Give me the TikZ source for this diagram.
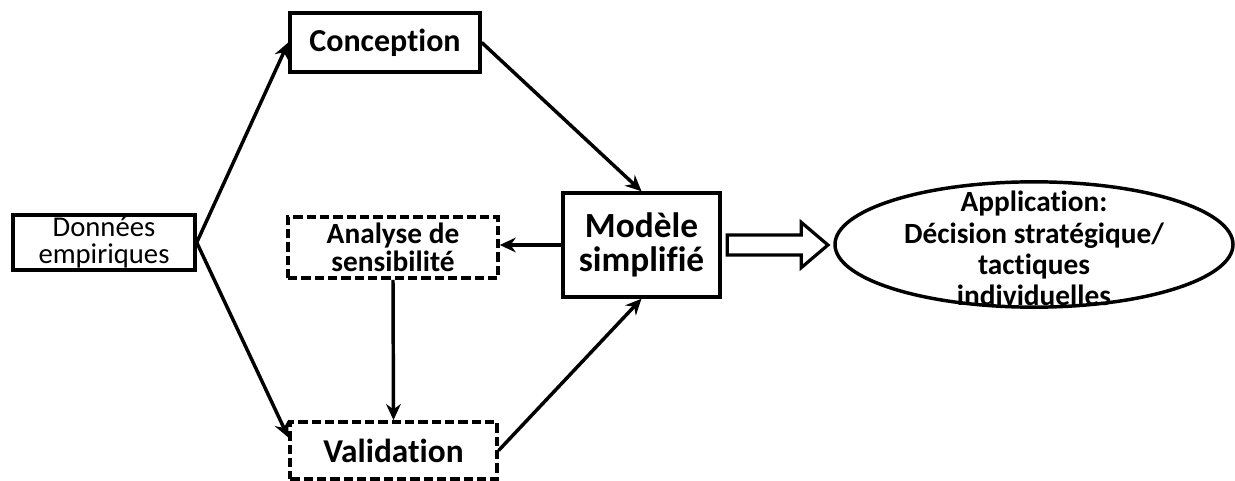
\documentclass[tikz,border=0pt]{standalone}
\usepackage{fontspec}
\setmainfont{Carlito}[Ligatures=NoCommon]
\usetikzlibrary{arrows.meta, shapes.geometric, calc}
\tikzset{every picture/.style={line width=0.75pt}}

\begin{document}
\begin{tikzpicture}[x=0.75pt,y=0.75pt,yscale=-1,xscale=1,
  box/.style={draw, line width=2.6pt, inner sep=0pt, align=center},
  dbox/.style={box, dash pattern=on 7pt off 3pt},
  link/.style={line width=2.6pt, -{Stealth[length=12pt,width=11pt]}}]
\useasboundingbox (0,0) rectangle (1235,481);

% Text Node
\draw (104,242.5) node [box, minimum width=136.5pt, minimum height=41pt, font=\fontsize{21.5}{20}\selectfont] (don) {Données\\empiriques};
% Text Node
\draw (385,42.5) node [box, minimum width=142.5pt, minimum height=44pt, font=\fontsize{24}{24}\selectfont\bfseries] (con) {Conception};
% Text Node
\draw (393,247.5) node [dbox, minimum width=157.5pt, minimum height=46pt, font=\fontsize{22}{21}\selectfont\bfseries] (ana) {Analyse de\\sensibilité};
% Text Node
\draw (641.5,245) node [box, minimum width=118pt, minimum height=78pt, font=\fontsize{26.5}{25}\selectfont\bfseries] (mod) {Modèle\\simplifié};
% Text Node
\draw (393.5,450.5) node [dbox, minimum width=155pt, minimum height=43pt, font=\fontsize{25}{25}\selectfont\bfseries] (val) {Validation};
% Ellipse
\draw (1034,244.5) node [ellipse, draw, line width=2.6pt, inner sep=0pt, minimum width=298.5pt, minimum height=94pt,
  label={[align=center, yshift=-3pt, font=\fontsize{22}{23.5}\selectfont\bfseries]center:Application:\\Décision stratégique/\\tactiques\\individuelles}] (app) {};

%Straight Lines
\draw [link] (don.east) -- (con.west) ;
\draw [link] (don.east) -- (val.173) ;
\draw [link] (con.east) -- (mod.north) ;
\draw [link] (mod.west) -- (mod.west -| ana.east) ;
\draw [link] (ana.south) -- (val.north) ;
\draw [link] (val.east) -- (mod.south) ;
%Hollow Arrow
\draw [line width=2.4pt, line join=miter] let \p1=(mod.east), \p2=(app.west) in
  (\x1+4pt,\y1+7.5pt) -- (\x2-24pt,\y1+7.5pt) -- (\x2-24pt,\y1+17pt) -- (\x2-4pt,\y1)
  -- (\x2-24pt,\y1-17pt) -- (\x2-24pt,\y1-7.5pt) -- (\x1+4pt,\y1-7.5pt) -- cycle ;

\end{tikzpicture}
\end{document}
